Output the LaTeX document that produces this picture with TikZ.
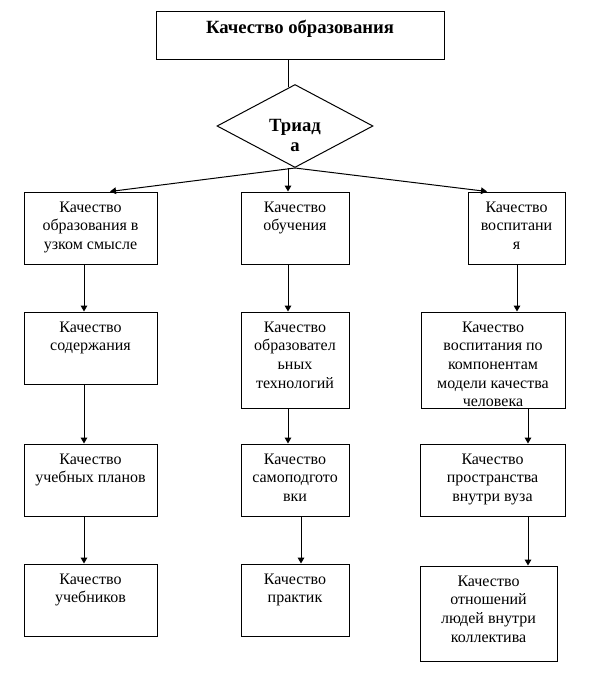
\documentclass[tikz,border=0pt]{standalone}
\usepackage{fontspec}
\setmainfont{Liberation Serif}
\usetikzlibrary{shapes.geometric,arrows.meta}
\newcommand\mybox[6]{%
  \node[box,minimum width=#4*0.75pt,minimum height=#5*0.75pt] (#1) at (#2,#3) {};
  \node[txt] (#1t) at ([yshift=-7.5pt]#1.north) {#6};}
\begin{document}
\begin{tikzpicture}[x=0.75pt,y=-0.75pt,
  box/.style={draw,line width=0.75pt,inner sep=0pt},
  txt/.style={anchor=north,inner sep=0pt,align=center,font=\fontsize{12pt}{14pt}\selectfont},
  bold/.style={font=\bfseries\fontsize{14pt}{15pt}\selectfont,inner sep=0pt,align=center},
  ln/.style={line width=0.75pt},
  arr/.style={line width=0.75pt,-{Triangle[width=5pt,length=4.5pt]}}]
\useasboundingbox (0,0) rectangle (589,685);
\fill[white] (0,0) rectangle (589,685);

% title
\node[box,minimum width=288*0.75pt,minimum height=48*0.75pt] (top) at (300,36) {};
\node[bold,anchor=base] (topt) at (300,34) {Качество образования};

% diamond
\node[diamond,draw,line width=0.75pt,inner sep=0pt,minimum width=156*0.75pt,minimum height=83*0.75pt] (dia) at (295,126) {};
\node[bold] (diat) at (295,135) {Триад\\а};

% boxes
\mybox{L1}{90.5}{228}{133}{72}{Качество\\образования в\\узком смысле}
\mybox{M1}{295}{228}{108}{72}{Качество\\обучения}
\mybox{R1}{516.5}{228}{97}{72}{Качество\\воспитани\\я}
\mybox{L2}{90.5}{348}{133}{72}{Качество\\содержания}
\mybox{M2}{295}{360}{108}{96}{Качество\\образовател\\ьных\\технологий}
\mybox{R2}{493}{360}{144}{96}{Качество\\воспитания по\\компонентам\\модели качества\\человека}
\mybox{L3}{90.5}{480}{133}{72}{Качество\\учебных планов}
\mybox{M3}{295}{480}{108}{72}{Качество\\самоподгото\\вки}
\mybox{R3}{492.5}{480}{145}{72}{Качество\\пространства\\внутри вуза}
\mybox{L4}{90.5}{600}{133}{72}{Качество\\учебников}
\mybox{M4}{295}{600}{108}{72}{Качество\\практик}
\mybox{R4}{488.5}{613.5}{137}{95}{Качество\\отношений\\людей внутри\\коллектива}

% connector columns
\coordinate (xL) at (84,0);
\coordinate (xM) at (288,0);
\coordinate (xMb) at (301,0);
\coordinate (xR) at (517,0);
\coordinate (xRb) at (528,0);

\draw[ln,shorten >=-2.2pt] (top.south -| xM) -- (dia.north -| xM);
\draw[arr] (dia.south) -- ([xshift=14.6pt]L1.north);
\draw[arr] (dia.south -| xM) -- (M1.north -| xM);
\draw[arr] (dia.south) -- ([xshift=-22.1pt]R1.north);

\draw[arr] (L1.south -| xL) -- (L2.north -| xL);
\draw[arr] (L2.south -| xL) -- (L3.north -| xL);
\draw[arr] (L3.south -| xL) -- (L4.north -| xL);

\draw[arr] (M1.south -| xM) -- (M2.north -| xM);
\draw[arr] (M2.south -| xM) -- (M3.north -| xM);
\draw[arr] (M3.south -| xMb) -- (M4.north -| xMb);

\draw[arr] (R1.south -| xR) -- (R2.north -| xR);
\draw[arr] (R2.south -| xRb) -- (R3.north -| xRb);
\draw[arr] (R3.south -| xRb) -- (R4.north -| xRb);
\end{tikzpicture}
\end{document}
